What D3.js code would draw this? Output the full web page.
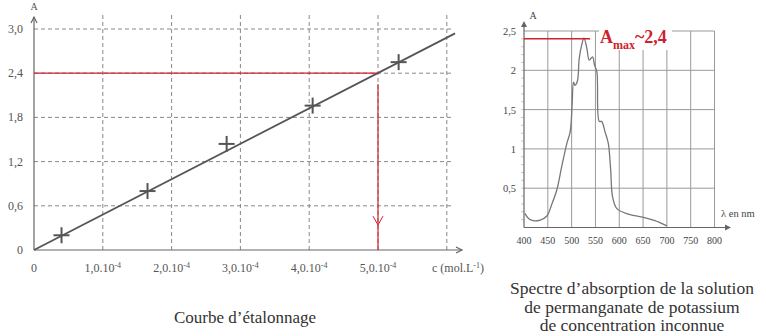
<!DOCTYPE html>
<html>
<head>
<meta charset="utf-8">
<script src="https://cdn.jsdelivr.net/npm/d3@7"></script>
<style>
  body { margin: 0; background: #fff; }
  text { font-family: "Liberation Serif", "DejaVu Serif", serif; }
</style>
</head>
<body>
<svg id="chart" width="766" height="336"></svg>
<script>
// calibration curve (left)
const concentrations = [0.4e-4, 1.65e-4, 2.8e-4, 4.05e-4, 5.3e-4];
const absorbances = [0.2, 0.8, 1.44, 1.96, 2.55];
const fitLine = [[0, 0], [6.12e-4, 2.94]];
const yTicksLeft = [0, 0.6, 1.2, 1.8, 2.4, 3.0];
const yTickLabelsLeft = ["0", "0,6", "1,2", "1,8", "2,4", "3,0"];
const xTicksLeft = [1e-4, 2e-4, 3e-4, 4e-4, 5e-4, 6e-4];
const xTickLabelsLeft = ["1,0.10", "2,0.10", "3,0.10", "4,0.10", "5,0.10"];
const aUnknown = 2.4;
const cUnknown = 5e-4;

// absorption spectrum (right)
const wavelengths = [402, 410, 419, 434, 448, 458, 469, 479, 490, 497, 501, 504, 507, 512, 516, 521, 526, 532, 537, 544, 548, 553, 558, 563, 570, 577, 582, 586, 595, 619, 651, 675, 700];
const spectrum = [0.18, 0.11, 0.087, 0.095, 0.146, 0.29, 0.48, 0.77, 1.07, 1.22, 1.56, 1.85, 1.81, 1.86, 2.15, 2.32, 2.41, 2.28, 2.13, 2.17, 2.07, 1.98, 1.35, 1.35, 1.22, 1.07, 0.73, 0.39, 0.24, 0.17, 0.13, 0.087, 0.02];
const xTicksRight = [400, 450, 500, 550, 600, 650, 700, 750, 800];
const yTicksRight = [0.5, 1, 1.5, 2, 2.5];
const yTickLabelsRight = ["0,5", "1", "1,5", "2", "2,5"];
const aMax = 2.4;

const svg = d3.select("#chart");
const red = "#d0202e";
const grey = "#666";

// ---------- left chart ----------
const x1 = d3.scaleLinear().domain([0, 6e-4]).range([34, 446.8]);
const y1 = d3.scaleLinear().domain([0, 3]).range([250, 29]);

const left = svg.append("g");

// dashed grid
left.selectAll("line.vgrid")
  .data(xTicksLeft)
  .enter().append("line")
  .attr("x1", d => x1(d)).attr("x2", d => x1(d))
  .attr("y1", y1(0)).attr("y2", 14)
  .attr("stroke", "#888").attr("stroke-width", 1)
  .attr("stroke-dasharray", "4,3");

left.selectAll("line.hgrid")
  .data(yTicksLeft.slice(1))
  .enter().append("line")
  .attr("x1", x1(0)).attr("x2", 454)
  .attr("y1", d => y1(d)).attr("y2", d => y1(d))
  .attr("stroke", "#888").attr("stroke-width", 1)
  .attr("stroke-dasharray", "4,3");

// axes with arrows
left.append("line")
  .attr("x1", x1(0)).attr("x2", x1(0))
  .attr("y1", y1(0)).attr("y2", 17)
  .attr("stroke", grey).attr("stroke-width", 1.2);
left.append("path")
  .attr("d", `M${x1(0) - 3},${23} L${x1(0)},${17} L${x1(0) + 3},${23}`)
  .attr("fill", "none").attr("stroke", grey).attr("stroke-width", 1.2);
left.append("line")
  .attr("x1", x1(0)).attr("x2", 462)
  .attr("y1", y1(0)).attr("y2", y1(0))
  .attr("stroke", grey).attr("stroke-width", 1.2);
left.append("path")
  .attr("d", `M456,${y1(0) - 3} L462,${y1(0)} L456,${y1(0) + 3}`)
  .attr("fill", "none").attr("stroke", grey).attr("stroke-width", 1.2);

// y tick labels
left.selectAll("text.ylab")
  .data(yTicksLeft)
  .enter().append("text")
  .attr("x", 23)
  .attr("y", d => y1(d) + 4)
  .attr("text-anchor", "end")
  .attr("fill", "#555")
  .style("font-size", "12px")
  .text((d, i) => yTickLabelsLeft[i]);

left.append("text")
  .attr("x", x1(0)).attr("y", 10)
  .attr("text-anchor", "middle")
  .attr("fill", "#555")
  .style("font-size", "10px")
  .text("A");

// x tick labels
left.append("text")
  .attr("x", x1(0)).attr("y", 272)
  .attr("text-anchor", "middle")
  .attr("fill", "#555")
  .style("font-size", "12px")
  .text("0");

const xl = left.selectAll("text.xlab")
  .data(xTickLabelsLeft)
  .enter().append("text")
  .attr("x", (d, i) => x1(xTicksLeft[i]))
  .attr("y", 272)
  .attr("text-anchor", "middle")
  .attr("fill", "#555")
  .style("font-size", "12px");
xl.append("tspan").text(d => d);
xl.append("tspan").attr("dy", -4).style("font-size", "8px").text("-4");

const cl = left.append("text")
  .attr("x", 432).attr("y", 272)
  .attr("fill", "#555")
  .style("font-size", "12px");
cl.append("tspan").text("c (mol.L");
cl.append("tspan").attr("dy", -4).style("font-size", "8px").text("-1");
cl.append("tspan").attr("dy", 4).text(")");

// fitted line
left.append("line")
  .attr("x1", x1(fitLine[0][0])).attr("y1", y1(fitLine[0][1]))
  .attr("x2", x1(fitLine[1][0])).attr("y2", y1(fitLine[1][1]))
  .attr("stroke", "#555").attr("stroke-width", 1.8);

// red reading lines
left.append("line")
  .attr("x1", x1(0)).attr("x2", x1(cUnknown))
  .attr("y1", y1(aUnknown)).attr("y2", y1(aUnknown))
  .attr("stroke", red).attr("stroke-width", 1.2);
left.append("line")
  .attr("x1", x1(cUnknown)).attr("x2", x1(cUnknown))
  .attr("y1", y1(2.25)).attr("y2", y1(0))
  .attr("stroke", red).attr("stroke-width", 1.2);
left.append("path")
  .attr("d", `M${x1(cUnknown) - 5},${y1(0.46)} L${x1(cUnknown)},${y1(0.34)} L${x1(cUnknown) + 5},${y1(0.46)}`)
  .attr("fill", "none").attr("stroke", red).attr("stroke-width", 1);

// crosses
const crosses = left.selectAll("g.cross")
  .data(concentrations)
  .enter().append("g")
  .attr("transform", (d, i) => `translate(${x1(d)},${y1(absorbances[i])})`);
crosses.append("line").attr("x1", -8).attr("x2", 8)
  .attr("stroke", "#555").attr("stroke-width", 2);
crosses.append("line").attr("y1", -8).attr("y2", 8)
  .attr("stroke", "#555").attr("stroke-width", 2);

left.append("text")
  .attr("x", 245).attr("y", 323)
  .attr("text-anchor", "middle")
  .attr("fill", "#333")
  .style("font-size", "17px")
  .text("Courbe d’étalonnage");

// ---------- right chart ----------
const x2 = d3.scaleLinear().domain([400, 800]).range([524, 714.5]);
const y2 = d3.scaleLinear().domain([0, 2.5]).range([227.5, 31]);

const right = svg.append("g");

right.selectAll("line.vgrid")
  .data(xTicksRight.slice(1))
  .enter().append("line")
  .attr("x1", d => x2(d)).attr("x2", d => x2(d))
  .attr("y1", y2(0)).attr("y2", y2(2.5))
  .attr("stroke", "#999").attr("stroke-width", 1);
right.selectAll("line.hgrid")
  .data(yTicksRight)
  .enter().append("line")
  .attr("x1", x2(400)).attr("x2", x2(800))
  .attr("y1", d => y2(d)).attr("y2", d => y2(d))
  .attr("stroke", "#999").attr("stroke-width", 1);

// minor ticks on y axis
right.selectAll("line.minor")
  .data(d3.range(0.1, 2.5, 0.1))
  .enter().append("line")
  .attr("x1", x2(400) - 3).attr("x2", x2(400))
  .attr("y1", d => y2(d)).attr("y2", d => y2(d))
  .attr("stroke", "#bbb").attr("stroke-width", 0.8);

// axes
right.append("line")
  .attr("x1", x2(400)).attr("x2", x2(400))
  .attr("y1", y2(0)).attr("y2", 26)
  .attr("stroke", grey).attr("stroke-width", 1.2);
right.append("path")
  .attr("d", `M${x2(400) - 3},27 L${x2(400)},21 L${x2(400) + 3},27 Z`)
  .attr("fill", grey);
right.append("line")
  .attr("x1", x2(400)).attr("x2", 726)
  .attr("y1", y2(0)).attr("y2", y2(0))
  .attr("stroke", grey).attr("stroke-width", 1.2);
right.append("path")
  .attr("d", `M725,${y2(0) - 3} L731,${y2(0)} L725,${y2(0) + 3} Z`)
  .attr("fill", grey);

right.selectAll("text.xlab")
  .data(xTicksRight)
  .enter().append("text")
  .attr("x", d => x2(d))
  .attr("y", 244)
  .attr("text-anchor", "middle")
  .attr("fill", "#444")
  .style("font-size", "10px")
  .text(d => d);

right.selectAll("text.ylab")
  .data(yTicksRight)
  .enter().append("text")
  .attr("x", 516)
  .attr("y", d => y2(d) + 4)
  .attr("text-anchor", "end")
  .attr("fill", "#444")
  .style("font-size", "10.5px")
  .text((d, i) => yTickLabelsRight[i]);

right.append("text")
  .attr("x", 533).attr("y", 19)
  .attr("text-anchor", "middle")
  .attr("fill", "#444")
  .style("font-size", "10px")
  .text("A");

right.append("text")
  .attr("x", 721).attr("y", 217)
  .attr("fill", "#444")
  .style("font-size", "10.5px")
  .text("λ en nm");

// spectrum curve
const line2 = d3.line()
  .x((d, i) => x2(wavelengths[i]))
  .y(d => y2(d))
  .curve(d3.curveCatmullRom);
right.append("path")
  .datum(spectrum)
  .attr("d", line2)
  .attr("fill", "none")
  .attr("stroke", "#777")
  .attr("stroke-width", 1.3);

// A max marker
right.append("line")
  .attr("x1", x2(400)).attr("x2", 590)
  .attr("y1", y2(aMax)).attr("y2", y2(aMax))
  .attr("stroke", red).attr("stroke-width", 1.5);

right.append("rect")
  .attr("x", 599).attr("y", 24)
  .attr("width", 73).attr("height", 26)
  .attr("fill", "#fff");
const am = right.append("text")
  .attr("x", 600).attr("y", 43)
  .attr("fill", red)
  .style("font-size", "18px")
  .style("font-weight", "bold");
am.append("tspan").text("A");
am.append("tspan").attr("dy", 6).style("font-size", "12px").text("max");
am.append("tspan").attr("dy", -6).text("~2,4");

// caption
const cap = right.append("text")
  .attr("text-anchor", "middle")
  .attr("fill", "#333")
  .style("font-size", "17.5px");
["Spectre d’absorption de la solution", "de permanganate de potassium", "de concentration inconnue"]
  .forEach((s, i) => {
    cap.append("tspan").attr("x", 632).attr("y", 294 + i * 18.5).text(s);
  });
</script>
</body>
</html>
